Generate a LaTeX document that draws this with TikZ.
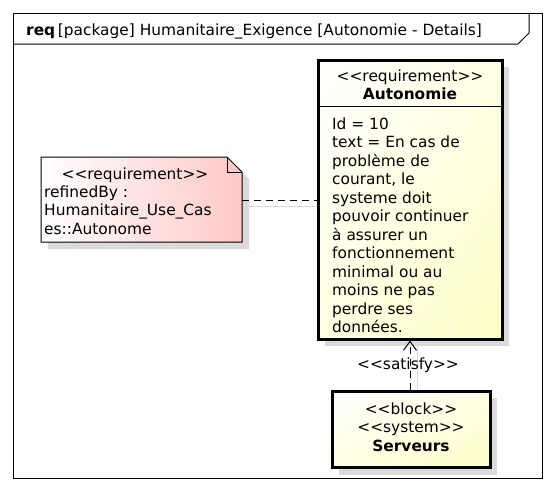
\documentclass[tikz,border=0pt]{standalone}
\usepackage{fontspec}
\setmainfont{DejaVu Sans}[Ligatures=TeXOff]
\usetikzlibrary{arrows.meta,shadings}
\definecolor{ylw}{RGB}{255,255,200}
\definecolor{ylwmid}{RGB}{255,255,228}
\definecolor{pnk}{RGB}{255,200,200}
\definecolor{shd}{RGB}{218,218,218}
\begin{document}
\begin{tikzpicture}[x=1pt,y=-1pt,
  txt/.style={font=\fontsize{15.4}{18.5}\selectfont, inner sep=0pt},
  thickbox/.style={draw=black, line width=3pt, inner sep=0pt,
    upper left=white, upper right=ylwmid, lower left=ylwmid, lower right=ylw},
  shadowfill/.style={fill=shd, draw=none},
  conn/.style={line width=1pt, dash pattern=on 7pt off 5pt},
  connshadow/.style={draw=shd, line width=1pt}]
\useasboundingbox (0,0) rectangle (556,488);
% frame
\draw[line width=1pt] (13,13) rectangle (542,478);
\draw[line width=1pt] (13,44) -- (518,44) -- (529,33) -- (529,13);
\node[txt, anchor=base west] (title) at (26,35) {\textbf{req}\,[package] Humanitaire\_Exigence [Autonomie - Details]};
% connector shadows
\draw[connshadow] (248,206) -- (325,206);
\draw[connshadow] (417,345) -- (417,391);
% Autonomie
\fill[shadowfill] (325,67) rectangle (509,346);
\node[thickbox, minimum width=184pt, minimum height=279pt] (auto) at (410,199.5) {};
\draw[line width=1pt] (318,106) -- (502,106);
\node[txt, anchor=base] (autoster) at (410,81) {<<requirement>>};
\node[txt, anchor=base] (autoname) at (410,99.5) {\textbf{Autonomie}};
\node[txt, anchor=north west, align=left] (autobody) at (332,117.5) {Id = 10\\text = En cas de\\problème de\\courant, le\\systeme doit\\pouvoir continuer\\à assurer un\\fonctionnement\\minimal ou au\\moins ne pas\\perdre ses\\données.};
% note
\fill[shadowfill] (48,164) -- (234,164) -- (249,179) -- (249,249) -- (48,249) -- cycle;
\shade[left color=white, right color=pnk] (41,157) -- (227,157) -- (242,172) -- (242,242) -- (41,242) -- cycle;
\draw[line width=1pt] (41,157) -- (227,157) -- (242,172) -- (242,242) -- (41,242) -- cycle;
\draw[line width=1pt] (227,157) -- (227,172) -- (242,172);
\node[txt, anchor=base] (notester) at (135,179) {<<requirement>>};
\node[txt, anchor=north west, align=left] (notebody) at (44,185.5) {refinedBy :\\Humanitaire\_Use\_Cas\\es::Autonome};
\coordinate (noteE) at (242,200);
% Serveurs
\fill[shadowfill] (339,398) rectangle (497,475);
\node[thickbox, minimum width=158pt, minimum height=76pt] (serv) at (411,429) {};
\node[txt, anchor=base] (servs1) at (411,414) {<<block>>};
\node[txt, anchor=base] (servs2) at (411,432.5) {<<system>>};
\node[txt, anchor=base] (servname) at (411,451) {\textbf{Serveurs}};
% connectors
\draw[conn] (noteE) -- (auto.west |- noteE);
\draw[conn, -{Straight Barb[length=9pt,width=13pt,line width=1pt]}] (serv.north -| 410,0) -- (auto.south -| 410,0);
\node[txt, anchor=base] (satlabel) at (408,369) {<<satisfy>>};
\end{tikzpicture}
\end{document}
